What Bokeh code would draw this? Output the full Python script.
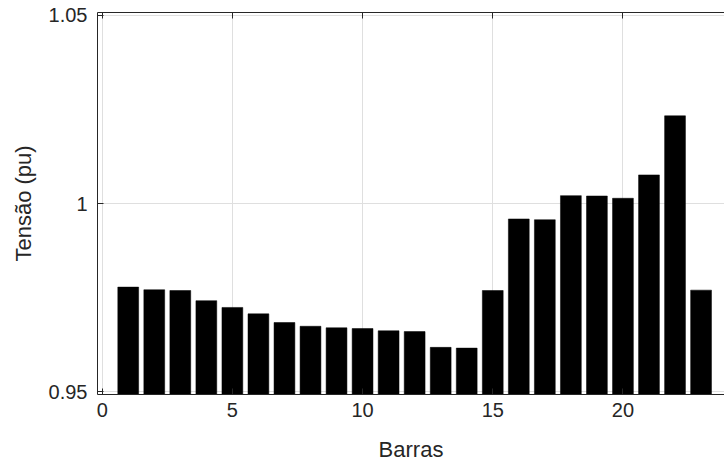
from bokeh.plotting import figure
from bokeh.models import Range1d, FixedTicker, LinearAxis
from bokeh.embed import file_html
from bokeh.resources import INLINE

# Data
barras = list(range(1, 24))
tensao = [0.9778, 0.9771, 0.9769, 0.9742, 0.9724, 0.9707, 0.9684, 0.9674,
          0.9670, 0.9668, 0.9662, 0.9660, 0.9618, 0.9616, 0.9769, 0.9959,
          0.9957, 1.0021, 1.0020, 1.0014, 1.0076, 1.0233, 0.9770]
x_ticks = [0, 5, 10, 15, 20]
y_ticks = [0.95, 1.0, 1.05]
y_tick_labels = ["0.95", "1", "1.05"]

FONT = "Liberation Sans"
AX = "#262626"

p = figure(width=724, height=464, output_backend="svg", toolbar_location=None,
           x_range=Range1d(-0.18, 23.9), y_range=Range1d(0.94928, 1.05074),
           min_border_left=97, min_border_right=0, min_border_top=12, min_border_bottom=70,
           x_axis_label="Barras", y_axis_label="Tensão (pu)")
p.outline_line_color = None
p.background_fill_color = "white"

p.vbar(x=barras, top=tensao, bottom=0.9, width=0.8, fill_color="black", line_color="black", line_width=0.5)

for ax in p.xaxis:
    ax.ticker = FixedTicker(ticks=x_ticks)
for ax in p.yaxis:
    ax.ticker = FixedTicker(ticks=y_ticks)
    ax.major_label_overrides = {t: l for t, l in zip(y_ticks, y_tick_labels)}

top_axis = LinearAxis(ticker=FixedTicker(ticks=x_ticks), major_label_standoff=0,
                      major_label_overrides={t: "" for t in x_ticks})
p.add_layout(top_axis, "above")

for ax in list(p.xaxis) + list(p.yaxis):
    ax.axis_line_color = AX
    ax.axis_line_width = 1
    ax.major_tick_line_color = AX
    ax.major_tick_in = 6
    ax.major_tick_out = 0
    ax.minor_tick_line_color = None
    ax.major_label_text_font = FONT
    ax.major_label_text_color = AX
    ax.axis_label_text_font = FONT
    ax.axis_label_text_font_style = "normal"
    ax.axis_label_text_color = AX
p.below[0].major_label_text_font_size = "20px"
p.below[0].axis_label_text_font_size = "22px"
p.below[0].major_label_standoff = 8
p.below[0].axis_label_standoff = 17
p.left[0].major_label_text_font_size = "20px"
p.left[0].axis_label_text_font_size = "22px"
p.left[0].major_label_standoff = 10
p.left[0].axis_label_standoff = 10

p.xgrid.ticker = FixedTicker(ticks=x_ticks)
p.ygrid.ticker = FixedTicker(ticks=y_ticks)
p.grid.grid_line_color = "#dfdfdf"
p.grid.grid_line_width = 1

open("out.html", "w").write(file_html(p, INLINE))
